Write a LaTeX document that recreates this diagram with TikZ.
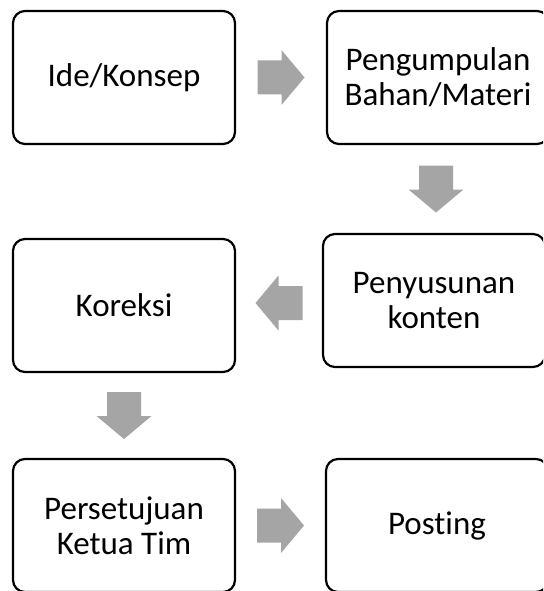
\documentclass[tikz,border=0pt]{standalone}
\usepackage{fontspec}
\setmainfont{Carlito}[Ligatures={NoCommon}]
\usetikzlibrary{calc}
\definecolor{arrowgray}{HTML}{A5A5A5}
\tikzset{
  boxnode/.style={draw=black, line width=2.2pt, rounded corners=12pt,
    minimum width=222pt, minimum height=133pt, inner sep=0pt, align=center,
    font=\fontsize{33}{35}\selectfont},
  blockarr/.pic={
    \fill[arrowgray] (-23.5,-17) -- (0.5,-17) -- (0.5,-27.5) -- (23.5,0)
      -- (0.5,27.5) -- (0.5,17) -- (-23.5,17) -- cycle;
  }
}
\begin{document}
\begin{tikzpicture}[x=1pt,y=-1pt]
\useasboundingbox (0,0) rectangle (543,591);
\clip (0,0) rectangle (543,591);
\node[boxnode] (b1) at (124,77.5) {Ide/Konsep};
\node[boxnode] (b2) at (438,77.5) {Pengumpulan\\Bahan/Materi};
\node[boxnode] (b3) at (434,300.5) {Penyusunan\\konten};
\node[boxnode] (b4) at (124,305.5) {Koreksi};
\node[boxnode] (b5) at (124,525.5) {Persetujuan\\Ketua Tim};
\node[boxnode] (b6) at (437,525.5) {Posting};
\path ($(b1.east)!0.5!(b2.west)$) pic {blockarr};
\path ($(b2.south)!0.5!(b3.north)$) pic[rotate=-90] {blockarr};
\path ($(b3.west)!0.5!(b4.east)$) pic[rotate=180] {blockarr};
\path ($(b4.south)!0.5!(b5.north)$) pic[rotate=-90] {blockarr};
\path ($(b5.east)!0.5!(b6.west)$) pic {blockarr};
\end{tikzpicture}
\end{document}
